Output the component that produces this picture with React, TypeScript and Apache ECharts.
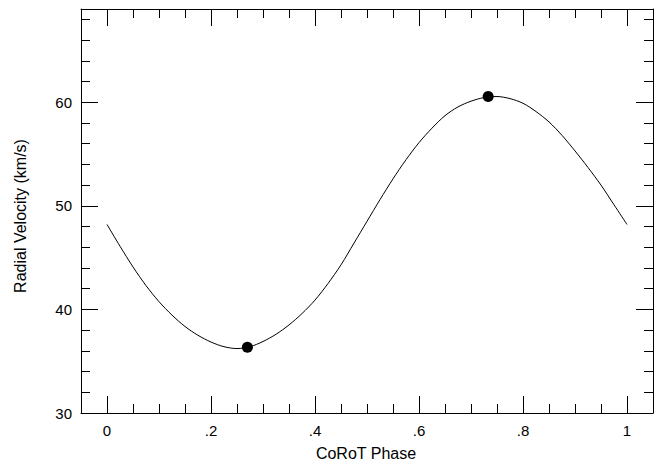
import React, { useEffect, useRef } from 'react';
import * as echarts from 'echarts';

// Model radial-velocity curve
const phase = [
  0, 0.025, 0.05, 0.075, 0.1, 0.125, 0.15, 0.175, 0.2, 0.225,
  0.25, 0.275, 0.3, 0.325, 0.35, 0.375, 0.4, 0.425, 0.45, 0.475,
  0.5, 0.525, 0.55, 0.575, 0.6, 0.625, 0.65, 0.675, 0.7, 0.725,
  0.75, 0.775, 0.8, 0.825, 0.85, 0.875, 0.9, 0.925, 0.95, 0.975, 1,
];
const velocity = [
  48.2, 46.1, 44.1, 42.3, 40.75, 39.45, 38.35, 37.5, 36.85, 36.4,
  36.22, 36.4, 36.9, 37.6, 38.5, 39.6, 40.9, 42.5, 44.3, 46.4,
  48.5, 50.6, 52.6, 54.45, 56.1, 57.5, 58.7, 59.55, 60.1, 60.45,
  60.55, 60.35, 59.9, 59.1, 58.1, 56.8, 55.3, 53.7, 52.0, 50.1, 48.2,
];
// Observed points
const obsPhase = [0.270, 0.733];
const obsVelocity = [36.35, 60.55];
// Ticks
const xMajorTicks = [0, 0.2, 0.4, 0.6, 0.8, 1];
const yMajorTicks = [30, 40, 50, 60];

const xTitle = 'CoRoT Phase';
const yTitle = 'Radial Velocity (km/s)';

const FONT = '"Liberation Sans", Arial, Helvetica, sans-serif';

export default function App() {
  const ref = useRef<HTMLDivElement>(null);
  useEffect(() => {
    if (!ref.current) return;
    const chart = echarts.init(ref.current, null, { renderer: 'svg' });
    const fmtX = (v: number) => {
      if (v === 0) return '0';
      if (v === 1) return '1';
      return String(Math.round(v * 10) / 10).replace(/^0/, '');
    };
    const black = '#000';
    const xBase = { type: 'value' as const, min: -0.05, max: 1.05, splitLine: { show: false } };
    const yBase = { type: 'value' as const, min: 30, max: 69, splitLine: { show: false } };
    const line = (show: boolean) => ({ show, onZero: false, lineStyle: { color: black, width: 1 } });
    const option: any = {
      animation: false,
      backgroundColor: '#fff',
      grid: { left: 81, right: 12, top: 9, bottom: 50, containLabel: false },
      xAxis: [
        {
          ...xBase, position: 'bottom',
          axisLine: line(true),
          axisTick: { show: true, inside: true, length: 17, customValues: xMajorTicks, lineStyle: { color: black } },
          axisLabel: { show: true, customValues: xMajorTicks, formatter: fmtX, margin: 10, fontSize: 15, color: black, fontFamily: FONT },
        },
        {
          ...xBase, position: 'bottom', interval: 0.05,
          axisLine: line(false),
          axisTick: { show: true, inside: true, length: 9, lineStyle: { color: black } },
          axisLabel: { show: false },
        },
        {
          ...xBase, position: 'top',
          axisLine: line(true),
          axisTick: { show: true, inside: true, length: 17, customValues: xMajorTicks, lineStyle: { color: black } },
          axisLabel: { show: false },
        },
        {
          ...xBase, position: 'top', interval: 0.05,
          axisLine: line(false),
          axisTick: { show: true, inside: true, length: 9, lineStyle: { color: black } },
          axisLabel: { show: false },
        },
      ],
      yAxis: [
        {
          ...yBase, position: 'left',
          axisLine: line(true),
          axisTick: { show: true, inside: true, length: 17, customValues: yMajorTicks, lineStyle: { color: black } },
          axisLabel: { show: true, customValues: yMajorTicks, margin: 9, fontSize: 15, color: black, fontFamily: FONT },
        },
        {
          ...yBase, position: 'left', interval: 2,
          axisLine: line(false),
          axisTick: { show: true, inside: true, length: 9, lineStyle: { color: black } },
          axisLabel: { show: false },
        },
        {
          ...yBase, position: 'right',
          axisLine: line(true),
          axisTick: { show: true, inside: true, length: 17, customValues: yMajorTicks, lineStyle: { color: black } },
          axisLabel: { show: false },
        },
        {
          ...yBase, position: 'right', interval: 2,
          axisLine: line(false),
          axisTick: { show: true, inside: true, length: 9, lineStyle: { color: black } },
          axisLabel: { show: false },
        },
      ],
      graphic: [
        {
          type: 'text', x: 366, y: 453,
          style: { text: xTitle, fill: black, font: `16px ${FONT}`, textAlign: 'center', textVerticalAlign: 'middle' },
        },
        {
          type: 'text', x: 20.5, y: 216, rotation: Math.PI / 2,
          style: { text: yTitle, fill: black, font: `16px ${FONT}`, textAlign: 'center', textVerticalAlign: 'middle' },
        },
      ],
      series: [
        {
          type: 'line',
          xAxisIndex: 0, yAxisIndex: 0,
          data: phase.map((p, i) => [p, velocity[i]]),
          smooth: 0.3,
          showSymbol: false,
          lineStyle: { color: black, width: 1 },
          silent: true,
        },
        {
          type: 'scatter',
          xAxisIndex: 0, yAxisIndex: 0,
          data: obsPhase.map((p, i) => [p, obsVelocity[i]]),
          symbol: 'circle',
          symbolSize: 11,
          itemStyle: { color: black, opacity: 1 },
          silent: true,
        },
      ],
    };
    chart.setOption(option);
    return () => chart.dispose();
  }, []);
  return (
    <div
      ref={ref}
      style={{ position: 'fixed', left: 0, top: 0, width: 665, height: 463, background: '#fff' }}
    />
  );
}
